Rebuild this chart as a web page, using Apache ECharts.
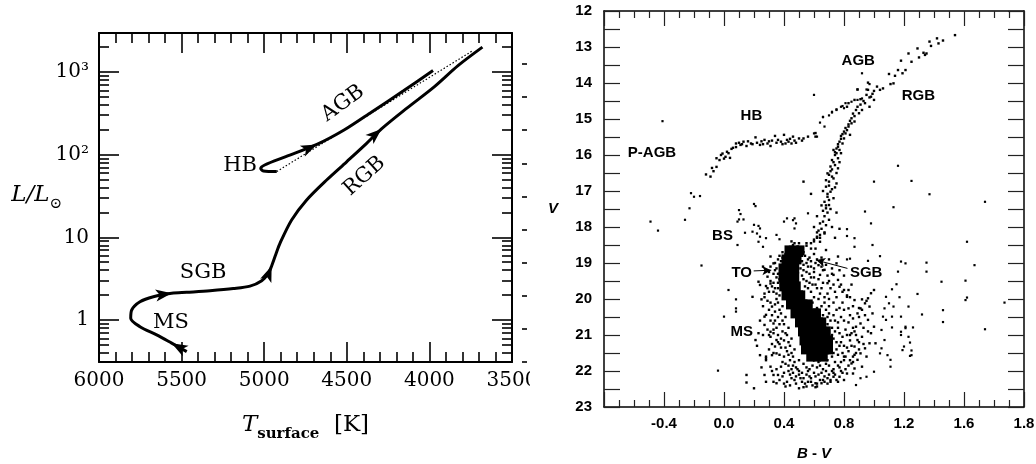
<!DOCTYPE html>
<html><head><meta charset="utf-8">
<script src="https://cdn.jsdelivr.net/npm/echarts@6/dist/echarts.min.js"></script>
<style>
html,body{margin:0;padding:0;background:#fff;width:1036px;height:464px;overflow:hidden}
#leftWrap{position:absolute;left:0;top:0;width:530px;height:464px;overflow:hidden}
#left{position:absolute;left:0;top:0;width:600px;height:464px}
#right{position:absolute;left:531px;top:0;width:505px;height:464px}
</style></head><body>
<div id="leftWrap"><div id="left"></div></div>
<div id="right"></div>
<script>
// ---------------- LEFT PANEL DATA (T [K], L/Lsun) ----------------
const lumMajorTicks = [1, 10, 100, 1000];
const lumTickLabels = ['1', '10', '10²', '10³'];
const lumMinorTicks = [0.4,0.5,0.6,0.7,0.8,0.9, 2,3,4,5,6,7,8,9, 20,30,40,50,60,70,80,90, 200,300,400,500,600,700,800,900, 2000];
const mbolTicks = [-3,-2,-1,0,1,2,3,4,5,6];
const mainTrack = [
  [5469,0.414],[5560,0.524],[5651,0.66],[5752,0.83],[5808,1.05],[5802,1.32],[5752,1.66],
  [5671,1.91],[5560,2.1],[5469,2.16],[5328,2.26],[5187,2.4],[5086,2.57],[5015,2.99],
  [4975,3.67],[4955,4.5],[4930,6.2],[4904,8.5],[4834,16.2],[4743,28.3],[4622,49.4],
  [4501,82],[4380,137],[4290,205],[4138,363],[3971,661],[3825,1202],[3679,2000]
];
const hbAgbTrack = [
  [4924,62.5],[5005,63.5],[5021,68],[4997,75],[4869,94.6],[4681,133],[4514,200],
  [4347,331],[4159,589],[3978,1040]
];
const dottedTrack = [[4924,62.5],[3740,1800]];
const mainArrowIdx = [1, 8, 15, 23];
const agbArrowIdx = [5];
const phaseLabels = [[5564,0.93,'MS'],[5370,3.7,'SGB'],[5146,73,'HB'],[4393,55,'RGB'],[4524,418,'AGB']];
const phaseLabelRotate = {MS:0, SGB:0, HB:0, RGB:42, AGB:36};

// ---------------- RIGHT PANEL DATA (B-V, V) ----------------
const bvTickValues = [-0.4, 0.0, 0.4, 0.8, 1.2, 1.6, 2.0];
const bvTickLabels = ['-0.4', '0.0', '0.4', '0.8', '1.2', '1.6', '1.8'];
const hbStars = [[-0.12,16.54],[-0.09,16.6],[-0.08,16.36],[-0.05,16.33],[-0.05,16.09],[-0.03,16.14],[-0.02,16.0],[0.01,16.05],[0.02,15.91],[0.04,16.08],[0.05,15.83],[0.08,15.68],[0.08,15.78],[0.11,15.72],[0.13,15.63],[0.15,15.75],[0.18,15.68],[0.21,15.51],[0.22,15.66],[0.24,15.72],[0.27,15.58],[0.29,15.68],[0.31,15.75],[0.34,15.47],[0.35,15.66],[0.38,15.63],[0.40,15.44],[0.41,15.68],[0.43,15.63],[0.46,15.49],[0.48,15.66],[0.50,15.54],[0.53,15.54],[0.56,15.49],[0.61,15.39],[0.61,15.49],[0.03,15.95],[0.06,15.8],[0.1,15.66],[0.12,15.7],[0.16,15.62],[0.19,15.7],[0.25,15.62],[0.32,15.6],[0.36,15.58],[0.39,15.7],[0.44,15.55],[0.47,15.6],[0.52,15.6],[0.45,15.68],[0.42,15.58],[-0.01,15.96],[0.0,16.1],[-0.07,16.45],[0.26,15.7],[0.3,15.62]];
const blueStars = [[-0.41,15.06],[-0.22,17.06],[-0.2,17.16],[-0.16,17.14],[-0.23,17.48],[-0.49,17.85],[-0.44,18.1],[-0.26,17.8],[-0.15,19.07],[0.0,20.49],[-0.04,21.99],[0.03,19.75],[0.08,20.01],[0.08,20.26],[0.08,20.35]];
const bsStars = [[0.10,17.53],[0.11,17.64],[0.10,17.79],[0.09,17.85],[0.13,17.79],[0.2,17.36],[0.21,17.42],[0.09,18.5],[0.14,18.16],[0.19,18.13],[0.2,17.94],[0.23,17.97],[0.24,18.27],[0.26,18.55],[0.28,18.31],[0.24,18.04],[0.22,18.18],[0.23,18.41],[0.42,17.76],[0.46,17.81],[0.47,18.04],[0.40,17.85],[0.47,17.76],[0.48,17.9],[0.56,17.62],[0.35,18.22],[0.37,18.34]];
const rgbStars = [[1.54,12.67],[1.46,12.82],[1.42,12.76],[1.43,12.9],[1.37,12.85],[1.38,12.97],[1.33,13.16],[1.35,13.18],[1.34,13.22],[1.29,13.04],[1.30,13.29],[1.25,13.41],[1.23,13.18],[1.18,13.38],[1.21,13.64],[1.19,13.73],[1.16,13.64],[1.14,13.8],[1.10,13.75],[1.13,14.01],[1.11,14.03],[1.06,14.15],[1.04,14.19],[1.02,14.1],[0.96,13.99],[0.89,14.18],[0.96,14.19],[1.0,14.47],[0.98,14.38],[0.95,14.33],[0.94,14.56],[0.97,14.66],[0.91,14.45],[0.92,14.75],[0.89,14.66],[0.90,14.84],[0.87,14.47],[0.83,14.56],[0.82,14.66],[0.87,14.92],[0.87,15.07],[0.85,15.12],[0.83,15.21],[0.82,15.31],[0.84,15.44],[0.81,15.4],[0.80,15.54],[0.78,15.47],[0.77,15.63],[0.79,15.68],[0.76,15.77],[0.77,15.86],[0.75,15.95],[0.73,15.86],[0.76,16.09],[0.72,16.14],[0.74,16.28],[0.71,16.32],[0.76,16.37],[0.69,16.51],[0.72,16.6],[0.70,16.74],[0.75,16.79],[0.68,16.88],[0.71,17.02],[0.69,17.16],[0.67,17.3],[0.70,17.39],[0.68,17.48],[0.99,14.3],[1.0,14.22],[0.97,14.4],[0.93,14.5],[0.91,14.6],[0.88,14.75],[0.86,14.85],[0.85,14.98],[0.84,15.05],[0.83,15.15],[0.81,15.25],[0.80,15.35],[0.79,15.42],[0.78,15.55],[0.76,15.7],[0.75,15.82],[0.74,15.92],[0.74,16.0],[0.73,16.2],[0.72,16.4],[0.71,16.45],[0.7,16.55],[0.73,16.65],[0.7,16.85],[0.72,16.95],[0.69,17.08],[0.7,17.25],[0.68,17.4],[0.66,17.55],[0.69,17.6],[0.67,17.7],[0.7,17.8],[0.66,17.85],[0.68,17.95],[0.65,18.05],[0.67,18.15],[0.64,18.22],[0.62,18.3],[0.6,18.4],[0.58,18.45],[0.55,18.52],[0.52,18.58],[0.71,17.5],[0.73,17.2],[0.74,16.9],[0.75,16.5],[0.77,16.2],[0.78,15.95],[0.68,16.7],[0.66,17.0],[0.65,17.4],[0.64,17.9],[0.72,18.0],[0.63,18.1],[0.62,17.7],[0.6,18.0],[0.75,17.6],[0.77,18.05],[0.74,18.3],[0.53,16.74],[0.58,17.08]];
const agbStars = [[0.72,14.8],[0.75,14.73],[0.78,14.66],[0.80,14.7],[0.66,14.94],[0.67,15.21],[0.60,15.4],[0.62,15.49],[0.72,14.82],[0.75,14.75],[0.79,14.64],[0.81,14.56],[0.85,14.52],[0.89,14.47],[0.92,14.43],[0.60,14.33],[0.66,14.95],[0.92,13.73],[0.97,14.03],[0.95,14.18],[0.89,14.18],[0.70,14.9],[0.64,15.1]];
const fieldStars = [[1.74,17.3],[1.13,17.45],[0.94,17.57],[0.98,17.9],[0.82,18.06],[0.82,18.25],[0.87,18.31],[0.87,18.55],[0.99,18.5],[1.04,18.81],[0.96,18.94],[0.82,18.9],[0.84,18.88],[1.18,18.96],[1.21,19.01],[1.35,18.99],[1.35,19.24],[1.62,18.41],[1.67,19.06],[1.87,20.1],[1.74,20.84],[1.61,19.49],[1.62,19.96],[1.61,20.03],[1.45,19.52],[1.46,20.31],[1.46,20.64],[1.32,20.43],[1.29,19.86],[1.23,20.21],[1.16,19.24],[1.15,19.59],[1.12,19.73],[1.17,19.95],[1.13,20.21],[1.18,20.49],[1.12,20.49],[1.26,20.79],[1.21,20.81],[1.21,20.77],[1.18,20.91],[1.18,21.0],[1.24,21.21],[1.20,21.32],[1.25,21.43],[1.24,21.58],[1.19,21.42],[1.11,21.69],[1.11,21.88],[1.09,21.56],[1.12,20.79],[1.08,19.94],[1.10,20.12],[1.07,20.26],[1.06,20.49],[1.08,20.58],[1.05,20.86],[1.07,21.14],[1.05,21.37],[1.04,21.51],[1.0,22.02],[0.95,22.16],[0.91,22.2],[0.88,22.39],[1.16,16.3],[1.25,16.72],[1.0,16.74],[1.37,17.09],[1.23,21.05],[1.25,21.56]];
const haloStars = [[1.0,19.75],[0.98,19.84],[0.96,19.98],[0.92,20.01],[0.94,20.12],[0.97,20.21],[0.91,20.26],[0.99,20.4],[0.96,20.58],[1.0,20.77],[0.98,20.95],[1.01,21.23],[0.97,21.23],[0.94,21.37],[0.91,21.51],[0.95,21.6],[0.89,21.69],[0.92,21.88],[0.87,21.93],[0.86,22.07],[0.80,22.25],[0.76,22.3],[0.71,22.3],[0.73,22.16],[0.66,22.25],[0.61,22.34],[0.82,22.07],[0.85,21.79],[0.81,21.6],[0.87,21.32],[0.89,21.14],[0.85,20.95],[0.88,20.77],[0.91,20.68],[0.86,20.54],[0.89,20.4],[0.83,20.26],[0.87,20.03],[0.82,19.94],[0.79,19.8],[0.83,19.75],[0.77,19.66],[0.76,19.47],[0.73,19.33],[0.69,19.56],[0.67,19.19],[0.64,19.33],[0.63,19.06],[0.72,19.15],[0.75,19.01],[0.76,18.82],[0.68,18.64],[0.64,18.41],[0.67,18.18],[0.62,18.27],
 [0.23,19.52],[0.24,19.61],[0.19,19.94],[0.25,20.01],[0.28,20.44],[0.27,20.72],[0.23,20.95],[0.21,21.14],[0.31,20.91],[0.31,21.05],[0.24,21.56],[0.28,21.6],[0.31,21.88],[0.15,22.11],[0.15,22.32],[0.2,22.48],[0.27,22.11],[0.28,22.3],[0.33,22.11],[0.33,22.3],[0.32,21.56],[0.35,21.51],[0.29,19.38],[0.28,19.64],[0.31,19.57],[0.32,20.21],[0.34,20.35],[0.33,20.68],[0.34,21.32],[0.35,21.14],[0.27,20.49],[0.38,21.88],[0.31,19.1],[0.33,19.01],[0.31,18.82],[0.28,21.65],[0.36,22.11],[0.35,22.34],[0.41,22.43],[0.5,22.48],[0.55,22.43],[0.62,22.43],[0.65,22.34],[0.71,22.25],[0.77,22.16],
 [0.34,19.0],[0.35,19.4],[0.33,19.8],[0.36,20.1],[0.38,20.4],[0.4,20.7],[0.42,21.0],[0.44,21.3],[0.46,21.6],[0.48,21.9],[0.36,21.2],[0.40,21.6],[0.43,22.0],[0.50,22.1],[0.38,19.6],[0.36,18.9],[0.39,18.7],[0.31,19.5],[0.30,20.3],[0.35,20.8],[0.33,21.5],[0.45,22.2],[0.52,22.3],[0.58,22.2],[0.55,21.9],[0.62,21.9],[0.68,21.8],[0.72,21.6],[0.75,21.4],[0.78,21.2],[0.74,20.9],[0.71,20.6],[0.68,20.3],[0.63,20.0],[0.58,19.8],[0.55,19.5],[0.53,19.2],[0.52,18.95],[0.56,19.1],[0.6,19.4],[0.65,19.7],[0.7,20.0],[0.75,20.3],[0.8,20.6],[0.82,21.0],[0.85,21.3],[0.8,21.6],[0.77,21.9],[0.7,22.1],[0.65,22.05],[0.6,21.7],[0.3,21.0],[0.28,21.7],[0.32,22.0],[0.42,22.3],[0.62,22.35],[0.73,21.95],[0.79,21.5],[0.88,21.0],[0.9,20.5],[0.86,20.2],[0.82,19.9],[0.78,19.6],[0.72,19.3],[0.66,19.2],[0.62,18.9],[0.58,18.6],[0.57,18.85],[0.49,18.55],[0.55,18.45],[0.6,18.35],[0.62,18.15],[0.64,18.3],
 [0.37,18.8],[0.38,19.1],[0.36,19.3],[0.37,19.9],[0.39,20.2],[0.41,20.5],[0.43,20.8],[0.45,21.1],[0.47,21.4],[0.5,21.7],[0.53,21.8],[0.57,21.95],[0.63,21.75],[0.67,21.6],[0.71,21.35],[0.73,21.1],[0.72,20.8],[0.69,20.5],[0.65,20.2],[0.6,19.95],[0.56,19.7],[0.53,19.45],[0.51,19.15],[0.54,18.8],[0.5,18.45],
 [0.40,19.0],[0.42,18.6],[0.46,18.5],[0.53,18.7],[0.55,19.0],[0.52,19.35],[0.54,19.65],[0.57,19.55],[0.59,20.1],[0.62,20.25],[0.66,20.45],[0.69,20.7],[0.72,21.0],[0.75,21.2],[0.76,21.55],[0.74,21.75],[0.7,21.85],[0.66,21.95],[0.6,22.05],[0.55,22.1],[0.5,22.0],[0.47,21.75],[0.45,21.5],[0.43,21.2],[0.41,20.95],[0.39,20.6],[0.37,20.3],[0.35,20.0],[0.34,19.7],[0.36,19.55],[0.33,19.3],[0.35,19.15],[0.38,18.95],[0.29,20.05],[0.31,20.6],[0.33,20.95],[0.38,21.35],[0.41,21.8],[0.45,21.95],[0.39,22.15],[0.48,22.35],[0.56,22.3],[0.68,22.0],[0.78,21.75],[0.83,21.45],[0.8,21.3],[0.77,20.95],[0.76,20.65],[0.73,20.45],[0.7,20.2],[0.67,19.95],[0.62,19.7],[0.59,19.6],[0.57,19.3],[0.6,19.15],[0.58,18.95],[0.65,18.85],[0.7,19.5],[0.74,19.8],[0.79,20.1],[0.84,20.45],[0.86,20.8],[0.92,21.05],[0.9,21.4],[0.86,21.6],[0.83,21.85],[0.79,22.05],[0.69,22.2],[0.59,22.4],[0.44,22.4],[0.37,22.25],[0.25,21.9],[0.22,21.3],[0.26,20.2],[0.3,19.8],[0.26,19.1],[0.4,22.05],[0.53,22.2],[0.61,22.15],[0.73,22.05],
 [0.30,19.25],[0.32,19.65],[0.27,19.85],[0.34,20.15],[0.36,20.5],[0.37,20.7],[0.39,20.9],[0.4,21.15],[0.42,21.45],[0.44,21.7],[0.46,21.85],[0.49,21.95],[0.52,22.05],[0.56,22.0],[0.59,21.85],[0.64,21.85],[0.69,21.7],[0.73,21.5],[0.77,21.3],[0.79,21.05],[0.76,20.8],[0.74,20.6],[0.7,20.4],[0.67,20.1],[0.64,19.85],[0.61,19.6],[0.58,19.4],[0.55,19.25],[0.53,19.05],[0.56,18.9],[0.6,18.75],[0.47,18.45],[0.44,18.55],[0.39,18.85],[0.37,19.45],[0.35,19.85],[0.32,20.45],[0.34,20.6],[0.36,21.0],[0.38,21.1],[0.41,21.35],[0.43,21.55],[0.46,22.05],[0.51,22.2],[0.57,22.15],[0.63,22.1],[0.67,22.15],[0.72,22.0],[0.76,21.85],[0.8,21.7],[0.82,21.35],[0.84,21.15],[0.81,20.85],[0.78,20.5],[0.77,20.25],[0.73,20.1],[0.69,19.85],[0.66,19.55],[0.63,19.45],[0.6,19.25],[0.58,19.1],[0.61,19.0],[0.68,19.05],[0.71,19.7],[0.75,19.95],[0.8,20.3],[0.83,20.65],[0.87,20.9],[0.84,21.0],[0.88,21.5],[0.84,21.7],[0.74,22.1],[0.64,22.25],[0.54,22.35],[0.47,22.25],[0.4,22.35],[0.35,21.95],[0.3,21.4],[0.26,21.0],[0.24,20.6],[0.27,19.95],[0.29,19.7],[0.33,19.55],[0.34,19.2],[0.29,20.85],[0.32,21.25],[0.37,21.55],[0.39,21.75],[0.43,21.85],[0.48,22.15],[0.58,22.3],[0.67,22.3],[0.75,22.25],[0.81,21.95],[0.86,21.75],[0.9,21.2],[0.93,20.8],[0.9,20.25],[0.84,19.95],[0.8,19.75],[0.73,19.6],[0.69,19.35],[0.65,19.1],[0.52,18.8],[0.5,18.65],[0.45,18.4],[0.41,18.75],[0.36,19.7],[0.31,20.1],[0.33,20.85],[0.37,21.25],[0.44,22.1],[0.53,22.45],[0.61,22.45],[0.69,22.35],[0.78,22.0],[0.87,21.55],[0.93,21.25],[0.96,20.9],[0.94,20.45],[0.92,20.3],[0.95,20.05],[0.85,19.6],[0.8,19.35],[0.77,19.2],[0.7,18.9],[0.61,18.6]];
const coreStars = [[0.43,18.65],[0.475,18.65],[0.51,18.65],[0.41,18.9],[0.455,18.9],[0.49,18.9],[0.39,19.15],[0.435,19.15],[0.475,19.15],[0.39,19.4],[0.435,19.4],[0.475,19.4],[0.395,19.65],[0.44,19.65],[0.485,19.65],[0.41,19.9],[0.455,19.9],[0.50,19.9],[0.515,19.9],[0.44,20.15],[0.485,20.15],[0.53,20.15],[0.565,20.15],[0.47,20.4],[0.515,20.4],[0.56,20.4],[0.605,20.4],[0.62,20.4],[0.50,20.65],[0.545,20.65],[0.59,20.65],[0.635,20.65],[0.655,20.65],[0.52,20.9],[0.565,20.9],[0.61,20.9],[0.655,20.9],[0.685,20.9],[0.53,21.15],[0.575,21.15],[0.62,21.15],[0.665,21.15],[0.70,21.15],[0.54,21.4],[0.585,21.4],[0.63,21.4],[0.675,21.4],[0.70,21.4],[0.575,21.6],[0.62,21.6],[0.665,21.6]];
const cmdLabels = [[0.895,13.39,'AGB'],[1.296,14.37,'RGB'],[0.183,14.92,'HB'],[-0.48,15.95,'P-AGB'],[-0.01,18.24,'BS'],[0.118,19.27,'TO'],[0.948,19.27,'SGB'],[0.118,20.91,'MS']];
const cmdArrows = [[[0.198,19.22],[0.315,19.2]],[[0.823,19.15],[0.615,18.92]]];

// ---------------- LEFT CHART ----------------
const lg = Math.log10;
const serif = 'DejaVu Serif';
const LOG_MIN = lg(0.31), LOG_MAX = lg(2965);
const black = '#000';
function tAxis(pos, showLabel) {
  return {
    type: 'value', position: pos, inverse: true, min: 3500, max: 6000, interval: 500,
    axisLine: {show: true, onZero: false, lineStyle: {color: black, width: 2}},
    axisTick: {show: true, inside: true, length: 20, lineStyle: {color: black, width: 1.6}},
    minorTick: {show: true, splitNumber: 5, length: 10, lineStyle: {color: black, width: 1.6}},
    splitLine: {show: false}, minorSplitLine: {show: false},
    axisLabel: {show: showLabel, margin: 9, fontFamily: serif, fontSize: 20, color: black,
      formatter: v => String(Math.round(v))},
    name: showLabel ? '{i|T}{s|surface}{r|  [K]}' : '',
    nameLocation: 'middle', nameGap: 52, nameMoveOverlap: false,
    nameTextStyle: {rich: {
      i: {fontFamily: serif, fontStyle: 'italic', fontSize: 23, verticalAlign: 'bottom', padding: [0, 0, 5, 0], color: black},
      s: {fontFamily: serif, fontWeight: 'bold', fontSize: 15, verticalAlign: 'bottom', color: black},
      r: {fontFamily: serif, fontSize: 23, verticalAlign: 'bottom', padding: [0, 0, 5, 0], color: black}
    }}
  };
}
function lAxis(pos, ticks, len, withLabel, withLine) {
  return {
    type: 'value', position: pos, min: LOG_MIN, max: LOG_MAX,
    axisLine: {show: withLine, onZero: false, lineStyle: {color: black, width: 2}},
    axisTick: {show: true, inside: true, length: len, customValues: ticks.map(lg), lineStyle: {color: black, width: 1.6}},
    splitLine: {show: false},
    axisLabel: withLabel ? {show: true, margin: 10, fontFamily: serif, fontSize: 20, color: black,
      customValues: lumMajorTicks.map(lg),
      formatter: v => { const i = lumMajorTicks.findIndex(t => Math.abs(lg(t) - v) < 1e-6); return i >= 0 ? lumTickLabels[i] : ''; }}
      : {show: false},
    name: withLabel ? '{i|L/L}{o|⊙}' : '',
    nameLocation: 'middle', nameRotate: 0, nameGap: 37, nameMoveOverlap: false,
    nameTextStyle: {align: 'right', rich: {
      i: {fontFamily: serif, fontStyle: 'italic', fontSize: 23, verticalAlign: 'bottom', padding: [0, 0, 5, 0], color: black},
      o: {fontFamily: serif, fontSize: 15, verticalAlign: 'bottom', color: black}
    }}
  };
}
const leftChart = echarts.init(document.getElementById('left'), null, {renderer: 'canvas'});
function arrowData(track, idxs, rot) {
  return idxs.map((i, k) => ({value: [track[i][0], lg(track[i][1])], symbolRotate: rot ? rot[k] : 0}));
}
const leftOption = {
  animation: false,
  grid: {left: 99, top: 33, width: 413, height: 329, outerBoundsMode: 'none', containLabel: false},
  xAxis: [tAxis('bottom', true), tAxis('top', false)],
  yAxis: [
    lAxis('left', lumMajorTicks, 20, true, true),
    lAxis('left', lumMinorTicks, 10, false, false),
    lAxis('right', lumMajorTicks, 20, false, true),
    lAxis('right', lumMinorTicks, 10, false, false),
    {type: 'value', position: 'right', offset: 10, inverse: true,
     min: 4.74 - 2.5 * LOG_MAX, max: 4.74 - 2.5 * LOG_MIN,
     axisLine: {show: false}, splitLine: {show: false}, axisLabel: {show: false},
     axisTick: {show: true, inside: false, length: 5, customValues: mbolTicks, lineStyle: {color: black, width: 1.6}}}
  ],
  series: [
    {type: 'line', data: mainTrack.map(p => [p[0], lg(p[1])]), symbol: 'none', smooth: 0.3,
     lineStyle: {color: black, width: 3}, silent: true},
    {type: 'line', data: hbAgbTrack.map(p => [p[0], lg(p[1])]), symbol: 'none', smooth: 0.3,
     lineStyle: {color: black, width: 3}, silent: true},
    {type: 'line', data: dottedTrack.map(p => [p[0], lg(p[1])]), symbol: 'none',
     lineStyle: {color: black, width: 1.2, type: [1.5, 2]}, silent: true},
    {type: 'scatter', data: arrowData(mainTrack, mainArrowIdx), symbol: 'arrow', symbolSize: [9, 16],
     itemStyle: {color: black, opacity: 1}, silent: true},
    {type: 'scatter', data: arrowData(hbAgbTrack, agbArrowIdx), symbol: 'arrow', symbolSize: [9, 16],
     itemStyle: {color: black, opacity: 1}, silent: true},
    {type: 'scatter', symbolSize: 1, itemStyle: {color: 'rgba(0,0,0,0)', opacity: 1}, silent: true,
     data: phaseLabels.map(p => ({value: [p[0], lg(p[1])], name: p[2],
        label: {rotate: phaseLabelRotate[p[2]]}})),
     label: {show: true, position: 'inside', formatter: '{b}', fontFamily: serif, fontSize: 21, color: black}}
  ]
};
leftChart.setOption(leftOption);
function rotFor(track, idxs) {
  return idxs.map(i => {
    const a = leftChart.convertToPixel({gridIndex: 0}, [track[i-1][0], lg(track[i-1][1])]);
    const b = leftChart.convertToPixel({gridIndex: 0}, [track[i+1][0], lg(track[i+1][1])]);
    const ang = Math.atan2(-(b[1] - a[1]), b[0] - a[0]) * 180 / Math.PI;
    return ang - 90;
  });
}
leftChart.setOption({series: [{}, {}, {},
  {data: arrowData(mainTrack, mainArrowIdx, rotFor(mainTrack, mainArrowIdx))},
  {data: arrowData(hbAgbTrack, agbArrowIdx, rotFor(hbAgbTrack, agbArrowIdx))}]});

// ---------------- RIGHT CHART ----------------
const sans = 'Liberation Sans';
function bvAxis(pos, showLabel) {
  return {
    type: 'value', position: pos, min: -0.8, max: 2.0, interval: 0.4,
    axisLine: {show: true, onZero: false, lineStyle: {color: black, width: 1.5}},
    axisTick: {show: true, inside: true, length: 15, lineStyle: {color: '#222', width: 1.2}},
    minorTick: {show: true, splitNumber: 4, length: 7, lineStyle: {color: '#222', width: 1.2}},
    splitLine: {show: false}, minorSplitLine: {show: false},
    axisLabel: {show: showLabel, margin: 9, fontFamily: sans, fontWeight: 'bold', fontSize: 15, color: black,
      customValues: bvTickValues,
      formatter: v => { const i = bvTickValues.findIndex(t => Math.abs(t - v) < 1e-6); return i >= 0 ? bvTickLabels[i] : ''; }},
    name: showLabel ? '{i|B} - {i|V}' : '', nameLocation: 'middle', nameGap: 39, nameMoveOverlap: false,
    nameTextStyle: {fontFamily: sans, fontWeight: 'bold', fontSize: 15, color: black,
      rich: {i: {fontFamily: sans, fontWeight: 'bold', fontStyle: 'italic', fontSize: 15, color: black}}}
  };
}
function vAxis(pos, showLabel) {
  return {
    type: 'value', position: pos, inverse: true, min: 12, max: 23, interval: 1,
    axisLine: {show: true, onZero: false, lineStyle: {color: black, width: 1.5}},
    axisTick: {show: true, inside: true, length: 16, lineStyle: {color: '#222', width: 1.2}},
    minorTick: {show: true, splitNumber: 2, length: 16, lineStyle: {color: '#222', width: 1.2}},
    splitLine: {show: false}, minorSplitLine: {show: false},
    axisLabel: {show: showLabel, margin: 12, fontFamily: sans, fontWeight: 'bold', fontSize: 15, color: black},
    name: showLabel ? 'V' : '', nameLocation: 'middle', nameRotate: 0, nameGap: 46, nameMoveOverlap: false,
    nameTextStyle: {fontFamily: sans, fontWeight: 'bold', fontStyle: 'italic', fontSize: 15, color: black}
  };
}
function starSeries(data, size) {
  return {type: 'scatter', data: data, symbol: 'rect', symbolSize: size,
    itemStyle: {color: black, opacity: 1}, silent: true};
}
const rightChart = echarts.init(document.getElementById('right'));
rightChart.setOption({
  animation: false,
  grid: {left: 73, top: 11, width: 420, height: 396, outerBoundsMode: 'none', containLabel: false},
  xAxis: [bvAxis('bottom', true), bvAxis('top', false)],
  yAxis: [vAxis('left', true), vAxis('right', false)],
  series: [
    starSeries(coreStars, [8, 10]),
    starSeries(haloStars, 2.4),
    starSeries(fieldStars, 2.2),
    starSeries(rgbStars, 2.4),
    starSeries(agbStars, 2.2),
    starSeries(hbStars, 2.4),
    starSeries(blueStars, 2.2),
    starSeries(bsStars, 2.2),
    {type: 'scatter', symbolSize: 1, itemStyle: {color: 'rgba(0,0,0,0)', opacity: 1}, silent: true,
     data: cmdLabels.map(p => ({value: [p[0], p[1]], name: p[2]})),
     label: {show: true, position: 'inside', formatter: '{b}', fontFamily: sans, fontWeight: 'bold', fontSize: 15, color: black},
     markLine: {silent: true, symbol: ['none', 'arrow'], symbolSize: [7, 9],
       lineStyle: {color: black, width: 1, type: 'solid'}, label: {show: false},
       data: cmdArrows.map(a => [{coord: a[0]}, {coord: a[1]}])}}
  ]
});
</script>
</body></html>
